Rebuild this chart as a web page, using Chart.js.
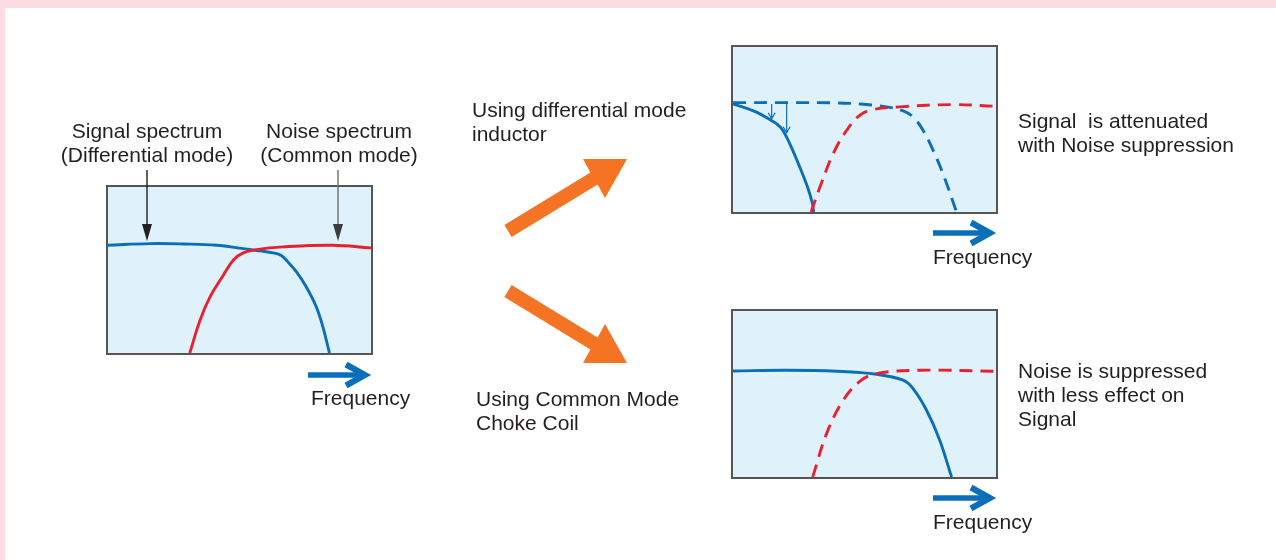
<!DOCTYPE html>
<html>
<head>
<meta charset="utf-8">
<script src="https://cdn.jsdelivr.net/npm/chart.js@4.4.1/dist/chart.umd.min.js"></script>
<style>
  html, body { margin: 0; padding: 0; }
  body {
    width: 1276px; height: 560px; position: relative; overflow: hidden;
    background: #fff;
    font-family: "Liberation Sans", Arial, Helvetica, sans-serif;
    color: #231f20;
  }
  .edgeTop { position: absolute; left: 0; top: 0; width: 1276px; height: 8px; background: #fcdce2; }
  .edgeLeft { position: absolute; left: 0; top: 0; width: 5px; height: 560px; background: #fcdce2; }
  .panel {
    position: absolute; box-sizing: border-box;
    border: 2px solid #555; background: #dff1fb;
  }
  .panel canvas { display: block; }
  .txt { position: absolute; font-size: 21px; line-height: 24px; white-space: pre; }
  .ctr { text-align: center; }
  svg { position: absolute; left: 0; top: 0; }
</style>
</head>
<body>
<div class="edgeTop"></div>
<div class="edgeLeft"></div>

<div class="panel" style="left:106px; top:185px; width:267px; height:170px;">
  <canvas id="before" width="263" height="166"></canvas>
</div>
<div class="panel" style="left:731px; top:45px; width:267px; height:169px;">
  <canvas id="dmInductor" width="263" height="165"></canvas>
</div>
<div class="panel" style="left:731px; top:309px; width:267px; height:170px;">
  <canvas id="cmChoke" width="263" height="166"></canvas>
</div>

<svg width="1276" height="560">
  <!-- pointers from the labels -->
  <line x1="147" y1="170" x2="147" y2="228" stroke="#231f20" stroke-width="1.4"/>
  <polygon points="142,224 152,224 147,241" fill="#231f20"/>
  <line x1="338" y1="170" x2="338" y2="228" stroke="#6d6e71" stroke-width="1.4"/>
  <polygon points="333,224 343,224 338,241" fill="#3d3d3f"/>

  <!-- orange arrows -->
  <polygon points="504.4,225 590.4,172.5 583,159 627,159 605,198 597.6,184.5 511.6,237" fill="#f47424"/>
  <polygon points="504.4,297 590.4,349.5 583,363 627,363 605,324 597.6,337.5 511.6,285" fill="#f47424"/>

  <!-- frequency arrows -->
  <g stroke="#0a6fba" fill="none" stroke-width="5.5">
    <line x1="308" y1="375" x2="364" y2="375"/>
    <polyline points="346,364.5 365,375 346,385.5" stroke-width="6"/>
    <line x1="933" y1="233" x2="989" y2="233"/>
    <polyline points="971,222.5 990,233 971,243.5" stroke-width="6"/>
    <line x1="933" y1="498" x2="989" y2="498"/>
    <polyline points="971,487.5 990,498 971,508.5" stroke-width="6"/>
  </g>
</svg>

<div class="txt ctr" style="left:47px; top:119px; width:200px;">Signal spectrum
(Differential mode)</div>
<div class="txt ctr" style="left:239px; top:119px; width:200px;">Noise spectrum
(Common mode)</div>
<div class="txt" style="left:311px; top:386px;">Frequency</div>

<div class="txt" style="left:472px; top:98px;">Using differential mode
inductor</div>
<div class="txt" style="left:476px; top:387px;">Using Common Mode
Choke Coil</div>

<div class="txt" style="left:1018px; top:109px;">Signal  is attenuated
with Noise suppression</div>
<div class="txt" style="left:933px; top:245px;">Frequency</div>

<div class="txt" style="left:1018px; top:359px;">Noise is suppressed
with less effect on
Signal</div>
<div class="txt" style="left:933px; top:510px;">Frequency</div>

<script>
// frequency (% of panel width), level (% of panel height)
var signalSpectrum = [[0,64.9],[16.2,65.9],[28.8,65.7],[41.4,64.9],[51.4,62.9],[57.7,61.5],[62.8,60.3],[65.9,58.7],[68.4,54.9],[71.6,49.0],[75.3,40.1],[79.1,28.2],[81.6,16.3],[84.2,0]];
var noiseSpectrum = [[31.1,0],[35.1,20.2],[38.9,34.1],[43.9,47.0],[47.7,56.0],[51.4,60.3],[56.5,62.3],[66.5,63.9],[85.4,64.9],[100,63.3]];

// differential mode inductor
var dmSignalBefore = [[0,66.3],[20.6,66.3],[39.5,66.1],[49.5,65.3],[58.4,63.7],[64.7,61.3],[68.4,57.7],[72.2,49.7],[76,37.7],[79.7,23.8],[85,0]];
var dmNoiseBefore = [[29.7,0],[33.2,15.7],[38.2,35.7],[43.3,49.7],[48.3,58.7],[53.3,62.1],[63.4,63.7],[83.5,65.1],[100,64.1]];
var dmSignalAfter = [[0,65.5],[8,61.1],[14.3,55.7],[18.1,51.3],[21.2,42.7],[25,28.7],[28.2,15.7],[30.1,5.8],[30.7,0]];
// attenuation marks: [frequency, from level, to level]
var dmDrops = [[14.7,65.5,56.5],[20.4,65.5,48]];

// common mode choke coil
var cmSignalAfter = [[0,63.9],[20.6,64.3],[39.5,63.7],[54.6,61.9],[64.7,58.3],[68.4,53.4],[73.5,40.5],[78.5,22.6],[83.1,0]];
var cmNoiseBefore = [[30.3,0],[35.7,26.6],[42,46.4],[48.3,57.7],[54.6,62.3],[70.9,64.3],[100,63.7]];

var BLUE = '#0a6fba';
var RED = '#e8212e';

function pts(arr) {
	return arr.map(function (p) { return {x: p[0], y: p[1]}; });
}

function series(arr, color, dashed) {
	return {
		data: pts(arr),
		borderColor: color,
		borderWidth: 2.9,
		borderDash: dashed ? [13, 8] : [],
		pointRadius: 0,
		fill: false,
		tension: 0.4,
		clip: 6
	};
}

var dropArrows = {
	id: 'dropArrows',
	afterDatasetsDraw: function (chart) {
		var ctx = chart.ctx, xs = chart.scales.x, ys = chart.scales.y;
		ctx.save();
		ctx.strokeStyle = BLUE;
		ctx.lineWidth = 1.2;
		dmDrops.forEach(function (d) {
			var x = xs.getPixelForValue(d[0]);
			var y0 = ys.getPixelForValue(d[1]);
			var y1 = ys.getPixelForValue(d[2]);
			ctx.beginPath();
			ctx.moveTo(x, y0);
			ctx.lineTo(x, y1);
			ctx.moveTo(x - 3.5, y1 - 6);
			ctx.lineTo(x, y1);
			ctx.lineTo(x + 3.5, y1 - 6);
			ctx.stroke();
		});
		ctx.restore();
	}
};

function makePanel(id, datasets, extra) {
	return new Chart(document.getElementById(id), {
		type: 'line',
		data: { datasets: datasets },
		options: {
			responsive: false,
			animation: false,
			devicePixelRatio: 1,
			layout: { padding: 0 },
			scales: {
				x: { type: 'linear', min: 0, max: 100, display: false },
				y: { type: 'linear', min: 0, max: 100, display: false }
			},
			plugins: {
				legend: { display: false },
				tooltip: { enabled: false }
			}
		},
		plugins: extra ? [extra] : []
	});
}

makePanel('before', [
	series(noiseSpectrum, RED, false),
	series(signalSpectrum, BLUE, false)
]);

makePanel('dmInductor', [
	series(dmNoiseBefore, RED, true),
	series(dmSignalBefore, BLUE, true),
	series(dmSignalAfter, BLUE, false)
], dropArrows);

makePanel('cmChoke', [
	series(cmNoiseBefore, RED, true),
	series(cmSignalAfter, BLUE, false)
]);
</script>
</body>
</html>
